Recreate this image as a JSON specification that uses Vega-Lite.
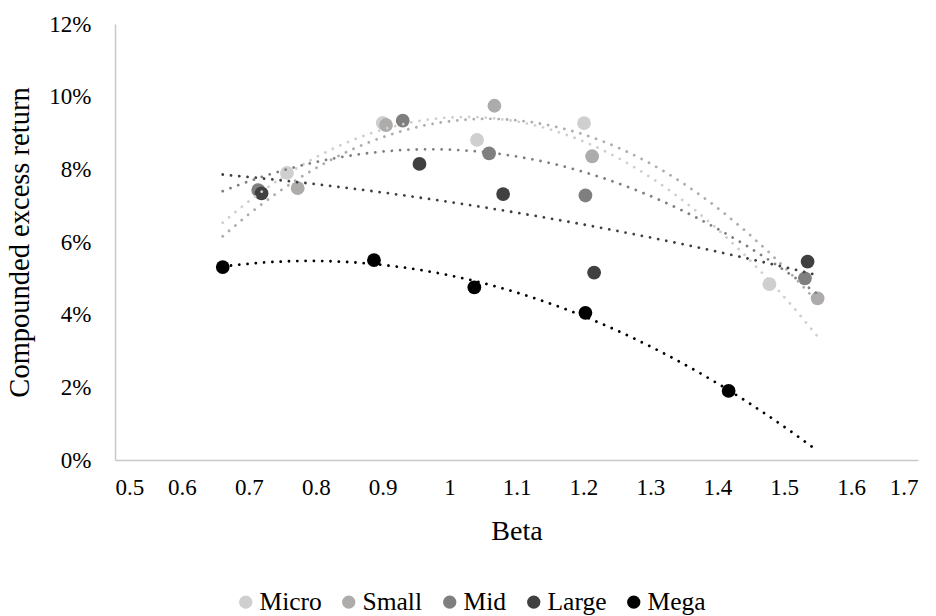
{
  "$schema": "https://vega.github.io/schema/vega-lite/v6.json",
  "autosize": "none",
  "width": 803,
  "height": 436,
  "padding": {"left": 115, "top": 24, "right": 18, "bottom": 156},
  "background": "white",
  "config": {
    "view": {"stroke": null},
    "font": "Liberation Serif",
    "axis": {"labelFont": "Liberation Serif", "titleFont": "Liberation Serif", "labelColor": "#000000", "titleColor": "#000000", "titleFontWeight": "normal", "grid": false, "ticks": false, "domainColor": "#C8C8C8", "domainWidth": 1.5},
    "legend": {"labelFont": "Liberation Serif", "labelColor": "#000000"}
  },
  "data": {
    "values": [
      {"series": "Micro", "beta": 0.757, "ret": 0.0790},
      {"series": "Micro", "beta": 0.900, "ret": 0.0928},
      {"series": "Micro", "beta": 1.041, "ret": 0.0881},
      {"series": "Micro", "beta": 1.201, "ret": 0.0927},
      {"series": "Micro", "beta": 1.478, "ret": 0.0484},
      {"series": "Small", "beta": 0.773, "ret": 0.0748},
      {"series": "Small", "beta": 0.905, "ret": 0.0922},
      {"series": "Small", "beta": 1.067, "ret": 0.0975},
      {"series": "Small", "beta": 1.213, "ret": 0.0836},
      {"series": "Small", "beta": 1.550, "ret": 0.0445},
      {"series": "Mid", "beta": 0.714, "ret": 0.0743},
      {"series": "Mid", "beta": 0.930, "ret": 0.0934},
      {"series": "Mid", "beta": 1.059, "ret": 0.0844},
      {"series": "Mid", "beta": 1.203, "ret": 0.0728},
      {"series": "Mid", "beta": 1.531, "ret": 0.0500},
      {"series": "Large", "beta": 0.719, "ret": 0.0734},
      {"series": "Large", "beta": 0.955, "ret": 0.0815},
      {"series": "Large", "beta": 1.080, "ret": 0.0732},
      {"series": "Large", "beta": 1.216, "ret": 0.0516},
      {"series": "Large", "beta": 1.535, "ret": 0.0546},
      {"series": "Mega", "beta": 0.661, "ret": 0.0531},
      {"series": "Mega", "beta": 0.887, "ret": 0.0550},
      {"series": "Mega", "beta": 1.037, "ret": 0.0475},
      {"series": "Mega", "beta": 1.203, "ret": 0.0405},
      {"series": "Mega", "beta": 1.417, "ret": 0.0190}
    ]
  },
  "layer": [
    {
      "mark": {"type": "point", "shape": "circle", "filled": true, "opacity": 1, "size": 190},
      "encoding": {
        "x": {"field": "beta", "type": "quantitative", "scale": {"domain": [0.5, 1.7], "nice": false, "zero": false},
              "axis": {"title": "Beta", "values": [0.5, 0.6, 0.7, 0.8, 0.9, 1, 1.1, 1.2, 1.3, 1.4, 1.5, 1.6, 1.7], "format": "~g", "labelFont": "Liberation Serif", "labelFontSize": 23, "labelPadding": 16, "titleFontSize": 28, "titlePadding": 18}},
        "y": {"field": "ret", "type": "quantitative", "scale": {"domain": [0, 0.12], "nice": false},
              "axis": {"title": "Compounded excess return", "values": [0, 0.02, 0.04, 0.06, 0.08, 0.1, 0.12], "format": ".0%", "labelFont": "Liberation Serif", "labelFontSize": 23, "labelPadding": 24, "titleFontSize": 28.5, "titlePadding": 14}},
        "color": {"field": "series", "type": "nominal",
                  "scale": {"domain": ["Micro", "Small", "Mid", "Large", "Mega"], "range": ["#D0CFCF", "#AEABAB", "#7F7F7F", "#404040", "#000000"]},
                  "legend": {"title": null, "orient": "none", "direction": "horizontal", "legendX": 118, "legendY": 565, "symbolType": "circle", "symbolSize": 175, "labelFontSize": 25.5, "labelOffset": 1, "columnPadding": 14, "symbolStrokeWidth": 0}}
      }
    },
    {
      "transform": [
        {"regression": "ret", "on": "beta", "groupby": ["series"], "method": "poly", "order": 2, "extent": [0.661, 1.55]}
      ],
      "mark": {"type": "line", "strokeWidth": 2.8, "strokeDash": [0.01, 8.3], "strokeCap": "round"},
      "encoding": {
        "x": {"field": "beta", "type": "quantitative"},
        "y": {"field": "ret", "type": "quantitative"},
        "stroke": {"field": "series", "type": "nominal",
                   "scale": {"domain": ["Micro", "Small", "Mid", "Large", "Mega"], "range": ["#D0CFCF", "#AEABAB", "#7F7F7F", "#404040", "#000000"]},
                   "legend": null}
      }
    }
  ]
}
